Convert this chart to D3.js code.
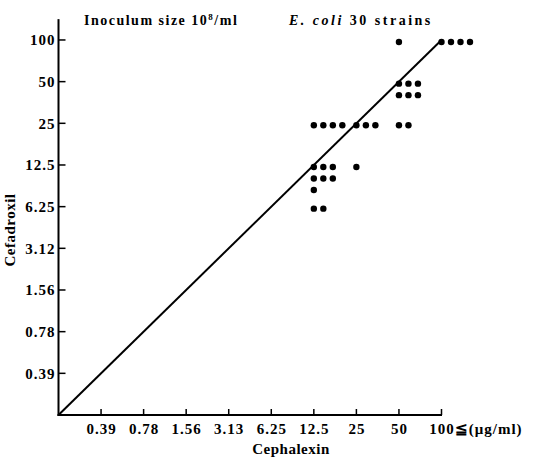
<!DOCTYPE html>
<meta charset="utf-8">
<script src="https://d3js.org/d3.v7.min.js"></script>
<style>
  body { margin: 0; background: #fff; }
  text { font-family: "Liberation Serif", serif; font-weight: bold; fill: #000; }
</style>
<div id="chart"></div>
<script>
// tick labels (MIC, ug/ml)
var xLabels = ["0.39", "0.78", "1.56", "3.13", "6.25", "12.5", "25", "50", "100"];
var yLabels = ["0.39", "0.78", "1.56", "3.12", "6.25", "12.5", "25", "50", "100"];

// strains grouped by (cephalexin MIC, cefadroxil MIC)
var cellCephalexin = ["100", "50", "50", "50", "12.5", "25", "12.5", "25", "12.5"];
var cellCefadroxil = ["100", "100", "50", "25", "25", "25", "12.5", "12.5", "6.25"];
var cellCounts     = [4, 1, 6, 2, 4, 3, 7, 1, 2];

var W = 534, H = 459;
var svg = d3.select("#chart").append("svg")
  .attr("width", W).attr("height", H);

// index scales: 0 = origin, 1..9 = tick positions
var x = d3.scaleLinear().domain([0, 9]).range([58.5, 441.5]);
var y = d3.scaleLinear().domain([0, 9.5]).range([415, 415 - 41.67 * 9.5]);
var ticks = d3.range(1, 10);

// x axis labels
var xAxis = svg.append("g")
  .attr("transform", "translate(0," + y(0) + ")")
  .call(d3.axisBottom(x)
    .tickValues(ticks)
    .tickSizeInner(-6).tickSizeOuter(0).tickPadding(8)
    .tickFormat(function(d) { return xLabels[d - 1]; }));
xAxis.selectAll("text")
  .attr("text-anchor", "middle")
  .style("font-size", "15px").style("letter-spacing", "1px")
  .style("font-family", "Liberation Serif").style("font-weight", "bold");

// last tick label: "100" centred on tick, then unit
var lastText = xAxis.selectAll(".tick").filter(function(d) { return d === 9; }).select("text");
var w100 = lastText.node().getComputedTextLength();
lastText.attr("text-anchor", "start").attr("x", -w100 / 2)
  .text("100\u2266(\u03bcg/ml)");

// y axis labels
var yAxis = svg.append("g")
  .attr("transform", "translate(" + x(0) + ",0)")
  .call(d3.axisLeft(y)
    .tickValues(ticks)
    .tickSizeInner(-7).tickSizeOuter(0).tickPadding(3)
    .tickFormat(function(d) { return yLabels[d - 1]; }));
yAxis.selectAll("text")
  .attr("text-anchor", "end")
  .style("font-size", "15px").style("letter-spacing", "1px")
  .style("font-family", "Liberation Serif").style("font-weight", "bold");

// axis strokes as filled bars placed by the scales
xAxis.select(".domain").remove();
yAxis.select(".domain").remove();
xAxis.selectAll(".tick line").remove();
yAxis.selectAll(".tick line").remove();

var frame = svg.append("g").attr("fill", "#000");
frame.append("rect")
  .attr("x", x(0) - 1).attr("y", y(9.5))
  .attr("width", 2).attr("height", y(0) - y(9.5) + 1);
frame.append("rect")
  .attr("x", x(0) - 1).attr("y", y(0) - 1)
  .attr("width", x(9) - x(0) + 1.5).attr("height", 2);
frame.selectAll(".xt").data(ticks).enter().append("rect")
  .attr("class", "xt")
  .attr("x", function(d) { return x(d) - 0.75; }).attr("y", y(0) - 6)
  .attr("width", 1.5).attr("height", 6);
frame.selectAll(".yt").data(ticks).enter().append("rect")
  .attr("class", "yt")
  .attr("x", x(0)).attr("y", function(d) { return y(d) - 0.75; })
  .attr("width", 7).attr("height", 1.5);

// line of equality
svg.append("line")
  .attr("x1", x(0)).attr("y1", y(0))
  .attr("x2", x(9)).attr("y2", y(9))
  .attr("stroke", "#000").attr("stroke-width", 2);

// dots: one per strain, stacked within each cell
var dots = [];
cellCounts.forEach(function(n, i) {
  var xi = xLabels.indexOf(cellCephalexin[i]) + 1;
  var yi = yLabels.indexOf(cellCefadroxil[i]) + 1;
  var perRow = n <= 4 ? n : 3;
  for (var k = 0; k < n; k++) {
    dots.push({xi: xi, yi: yi, col: k % perRow, row: Math.floor(k / perRow)});
  }
});
svg.selectAll(".dot")
  .data(dots)
  .enter().append("circle")
  .attr("class", "dot")
  .attr("cx", function(d) { return x(d.xi) + d.col * 9.5; })
  .attr("cy", function(d) { return y(d.yi) + 2 + d.row * 11.5; })
  .attr("r", 3.2)
  .attr("fill", "#000");

// axis titles
svg.append("text")
  .attr("x", 291).attr("y", 454)
  .attr("text-anchor", "middle")
  .style("font-size", "15px").style("letter-spacing", "0.5px")
  .text("Cephalexin");

svg.append("text")
  .attr("transform", "translate(15,230) rotate(-90)")
  .attr("text-anchor", "middle")
  .style("font-size", "15px").style("letter-spacing", "0.5px")
  .text("Cefadroxil");

// header notes
var t1 = svg.append("text")
  .attr("x", 84).attr("y", 25)
  .style("font-size", "14px").style("letter-spacing", "1.5px");
t1.append("tspan").text("Inoculum size 10");
t1.append("tspan").attr("dy", -5).style("font-size", "9px").text("8");
t1.append("tspan").attr("dy", 5).text("/ml");

var t2 = svg.append("text")
  .attr("x", 289).attr("y", 25)
  .style("font-size", "14px").style("letter-spacing", "2.5px");
t2.append("tspan").style("font-style", "italic").text("E. coli");
t2.append("tspan").text(" 30 strains");
</script>
